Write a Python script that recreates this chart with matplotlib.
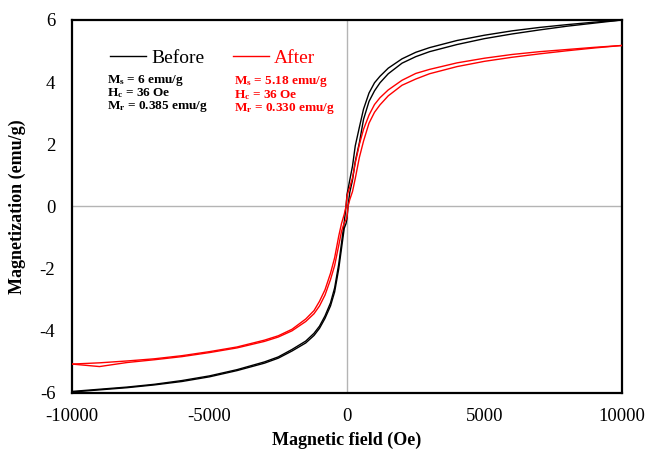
import matplotlib
matplotlib.use('Agg')
import matplotlib.pyplot as plt

plt.rcParams['font.family'] = ['Liberation Serif', 'DejaVu Serif']
plt.rcParams['mathtext.fontset'] = 'custom'
plt.rcParams['mathtext.rm'] = 'Liberation Serif'
plt.rcParams['mathtext.bf'] = 'Liberation Serif:bold'
plt.rcParams['axes.unicode_minus'] = False

# field values (Oe) for the loop branches
field = [-10000, -9000, -8000, -7000, -6000, -5000, -4000, -3000, -2500, -2000,
         -1500, -1200, -1000, -800, -600, -450, -300, -200, -100, -36, 0, 36,
         100, 200, 300, 450, 600, 800, 1000, 1200, 1500, 2000, 2500, 3000,
         4000, 5000, 6000, 7000, 8000, 9000, 10000]

# before: descending branch (+H -> -H) and ascending branch (-H -> +H)
before_down = [-5.95, -5.88, -5.81, -5.72, -5.60, -5.45, -5.25, -5.00, -4.84,
               -4.60, -4.33, -4.08, -3.85, -3.52, -3.10, -2.62, -1.85, -1.18,
               -0.50, 0.00, 0.385, 0.55, 0.85, 1.30, 1.95, 2.55, 3.13, 3.65,
               3.98, 4.19, 4.45, 4.75, 4.96, 5.11, 5.34, 5.51, 5.65, 5.76,
               5.85, 5.93, 6.00]
before_up = [-5.97, -5.90, -5.83, -5.74, -5.63, -5.48, -5.28, -5.04, -4.88,
             -4.65, -4.39, -4.15, -3.92, -3.60, -3.20, -2.75, -2.00, -1.35,
             -0.70, -0.55, -0.385, 0.00, 0.45, 0.85, 1.45, 2.05, 2.80, 3.38,
             3.72, 3.98, 4.27, 4.61, 4.82, 4.98, 5.21, 5.40, 5.55, 5.68,
             5.80, 5.90, 6.00]

# after
after_down = [-5.07, -5.03, -4.97, -4.90, -4.80, -4.67, -4.52, -4.30, -4.16,
              -3.95, -3.62, -3.35, -3.05, -2.68, -2.15, -1.65, -0.95, -0.55,
              -0.25, 0.00, 0.33, 0.45, 0.62, 0.92, 1.40, 2.00, 2.48, 2.94,
              3.28, 3.50, 3.75, 4.06, 4.28, 4.41, 4.62, 4.77, 4.89, 4.98,
              5.05, 5.12, 5.18]
after_up = [-5.07, -5.15, -5.02, -4.93, -4.83, -4.70, -4.55, -4.34, -4.20,
            -4.00, -3.70, -3.45, -3.20, -2.85, -2.35, -1.90, -1.25, -0.80,
            -0.52, -0.43, -0.33, 0.00, 0.22, 0.48, 0.90, 1.58, 2.10, 2.68,
            3.03, 3.27, 3.56, 3.90, 4.10, 4.27, 4.50, 4.67, 4.80, 4.91,
            5.01, 5.10, 5.18]

fig = plt.figure(figsize=(6.48, 4.54), dpi=100)
ax = fig.add_axes([0.1111, 0.1344, 0.8488, 0.8216])

ax.axhline(0, color='#b4b4b4', lw=1.0, zorder=1)
ax.axvline(0, color='#b4b4b4', lw=1.0, zorder=1)

ax.plot(field, before_down, color='black', lw=1.0, label='Before', zorder=3)
ax.plot(field, before_up, color='black', lw=1.0, zorder=3)
ax.plot(field, after_down, color='#ff0000', lw=1.0, label='After', zorder=3)
ax.plot(field, after_up, color='#ff0000', lw=1.0, zorder=3)

ax.set_xlim(-10000, 10000)
ax.set_ylim(-6, 6)
ax.set_xticks([-10000, -5000, 0, 5000, 10000])
ax.set_yticks([-6, -4, -2, 0, 2, 4, 6])
ax.tick_params(length=0, labelsize=13.5)
ax.tick_params(axis='x', pad=11)
ax.tick_params(axis='y', pad=12)
for s in ax.spines.values():
    s.set_linewidth(1.6)
    s.set_color('black')

ax.set_xlabel('Magnetic field (Oe)', fontsize=13, fontweight='bold')
ax.set_ylabel('Magnetization (emu/g)', fontsize=13, fontweight='bold')
ax.xaxis.set_label_coords(0.5, -0.103)
ax.yaxis.set_label_coords(-0.083, 0.5)

leg = ax.legend(loc='upper left', bbox_to_anchor=(0.069, 0.922), ncol=2,
                frameon=False, fontsize=14, handlelength=1.85,
                handletextpad=0.26, columnspacing=1.5, borderaxespad=0,
                borderpad=0)
leg.get_texts()[1].set_color('#ff0000')

before_info = [r'$\mathbf{M_s}$ = 6 emu/g', r'$\mathbf{H_c}$ = 36 Oe',
               r'$\mathbf{M_r}$ = 0.385 emu/g']
after_info = [r'$\mathbf{M_s}$ = 5.18 emu/g', r'$\mathbf{H_c}$ = 36 Oe',
              r'$\mathbf{M_r}$ = 0.330 emu/g']
for i, t in enumerate(before_info):
    ax.text(0.064, 0.839 - i * 0.036, t, transform=ax.transAxes, fontsize=9.5,
            fontweight='bold', color='black', va='center')
for i, t in enumerate(after_info):
    ax.text(0.295, 0.834 - i * 0.036, t, transform=ax.transAxes, fontsize=9.5,
            fontweight='bold', color='#ff0000', va='center')

plt.savefig('out.png', dpi=100)
